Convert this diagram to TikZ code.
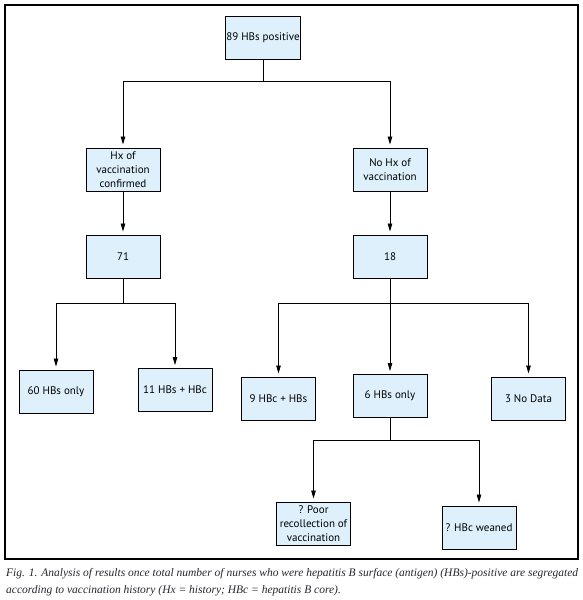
\documentclass[tikz,border=0pt]{standalone}
\usepackage{fontspec}
\setmainfont{Liberation Serif}
\newfontfamily\boxfont{PT Sans}
\usetikzlibrary{arrows.meta}
\definecolor{boxfill}{RGB}{222,240,251}
\definecolor{captext}{RGB}{40,36,45}
\tikzset{
  flowbox/.style={draw=black, line width=0.9pt, fill=boxfill, minimum width=74pt, minimum height=43pt,
    inner sep=1pt, align=center, font=\boxfont\fontsize{11}{14}\selectfont, text=black},
  arr/.style={-{Triangle[length=8pt,width=4.5pt]}, line width=0.8pt, shorten >=3pt},
  conn/.style={line width=0.8pt},
  captxt/.style={anchor=base west, inner sep=0pt, text=captext, font=\itshape\fontsize{11.5}{13}\selectfont}
}
\begin{document}
\begin{tikzpicture}[x=1pt,y=-1pt]
\useasboundingbox (0,0) rectangle (582,600);
\draw[line width=1.1pt] (5,5) rectangle (578,559);

\node[flowbox] (top) at (263,37.5) {89 HBs positive};
\node[flowbox] (hx) at (123,169.5) {Hx of\\vaccination\\confirmed};
\node[flowbox] (nohx) at (390,169.5) {No Hx of\\vaccination};
\node[flowbox] (n71) at (123,256.5) {71};
\node[flowbox] (n18) at (390,256.5) {18};
\node[flowbox] (c60) at (56,391.5) {60 HBs only};
\node[flowbox] (c11) at (175,390) {11 HBs + HBc};
\node[flowbox] (c9) at (278.5,398.5) {9 HBc + HBs};
\node[flowbox] (c6) at (390,396) {6 HBs only};
\node[flowbox] (c3) at (528.5,398.5) {3 No Data};
\node[flowbox] (poor) at (313.5,523.5) {? Poor\\recollection of\\vaccination};
\node[flowbox] (wean) at (479,527.5) {? HBc weaned};

\coordinate (j1) at (0,81);
\coordinate (j2) at (0,303);
\coordinate (j3) at (0,440);

\draw[conn] (top.south) -- (top.south |- j1);
\draw[arr] (top.south |- j1) -| (hx.north);
\draw[arr] (top.south |- j1) -| (nohx.north);
\draw[arr] (hx) -- (n71);
\draw[arr] (nohx) -- (n18);

\draw[conn] (n71.south) -- (n71.south |- j2);
\draw[arr] (n71.south |- j2) -| (c60.north);
\draw[arr] (n71.south |- j2) -| (c11.north);

\draw[arr] (n18.south) -- (c6.north);
\draw[arr] (n18.south |- j2) -| (c9.north);
\draw[arr] (n18.south |- j2) -| (c3.north);

\draw[conn] (c6.south) -- (c6.south |- j3);
\draw[arr] (c6.south |- j3) -| (poor.north);
\draw[arr] (c6.south |- j3) -| (wean.north);

\node[captxt] (cap1) at (6,576) {Fig. 1. Analysis of results once total number of nurses who were hepatitis B surface (antigen) (HBs)-positive are segregated};
\node[captxt] (cap2) at (6,593) {according to vaccination history (Hx = history; HBc = hepatitis B core).};
\end{tikzpicture}
\end{document}
